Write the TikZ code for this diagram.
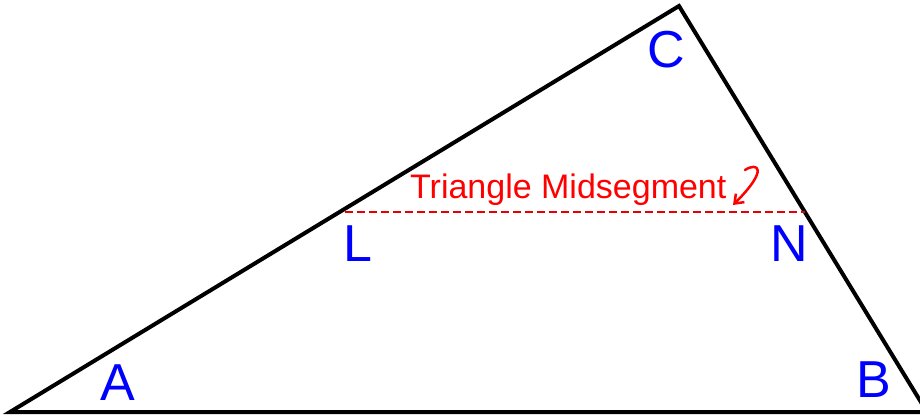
\documentclass[tikz,border=0pt]{standalone}
\usepackage{fontspec}
\setmainfont{Liberation Sans}
\usetikzlibrary{calc, positioning, arrows.meta}

\begin{document}
\begin{tikzpicture}[x=1pt, y=-1pt,
    side/.style={line width=4pt, line join=miter},
    vlabel/.style={text=blue, font=\fontsize{52}{52}\selectfont, inner sep=0pt},
    midseg/.style={red!90!black, line width=2.6pt, dash pattern=on 8pt off 4pt},
    hand/.style={red, line width=2.5pt, line cap=round, line join=round}]

    \useasboundingbox (0,0) rectangle (920,416);

    % =================================================================
    % TAM GIAC ABC
    % =================================================================
    \coordinate (A) at (10,412);
    \coordinate (C) at (679,6);
    \coordinate (B) at (927,412);
    \coordinate (L) at (345,212);
    \coordinate (N) at (805,212);

    \draw[side] (A) -- (C) -- (B) -- cycle;

    % Duong trung binh LN (net dut)
    \draw[midseg] (L) -- (N);

    % Gan nhan cac dinh
    \node[vlabel] (lA) at (118,383) {A};
    \node[vlabel] (lB) at (874,380) {B};
    \node[vlabel] (lC) at (666,50) {C};
    \node[vlabel] (lL) at (358,244) {L};
    \node[vlabel] (lN) at (789,244) {N};

    % =================================================================
    % CHU THICH
    % =================================================================
    \node[text=red, font=\fontsize{34}{34}\selectfont, inner sep=0pt, anchor=base west] (note) at (410,198) {Triangle Midsegment};
    \coordinate (hook) at (745,170);
    \coordinate (tip) at (733,205);
    \draw[hand, -{Straight Barb[length=8pt, width=12pt]}] (hook)
        .. controls (757,162) and (770,168) .. (tip);

\end{tikzpicture}
\end{document}
